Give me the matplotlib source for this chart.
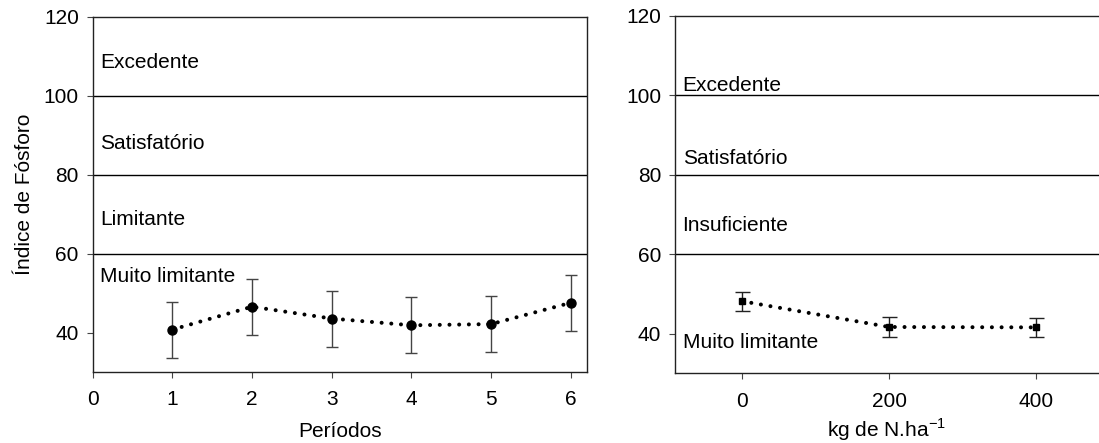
import numpy as np
import matplotlib
matplotlib.use('Agg')
import matplotlib.pyplot as plt

plt.rcParams['font.family'] = ['Liberation Sans', 'DejaVu Sans']
plt.rcParams['font.size'] = 15

# left panel: periods
periodos = [1, 2, 3, 4, 5, 6]
ip_periodos = [40.8, 46.6, 43.6, 41.9, 42.2, 47.6]
err_periodos = [7.1, 7.1, 7.1, 7.1, 7.1, 7.1]
faixas_esq = ['Excedente', 'Satisfatório', 'Limitante', 'Muito limitante']
faixas_esq_y = [108.5, 87.8, 68.7, 54.3]

# right panel: nitrogen doses
doses = [0, 200, 400]
ip_doses = [48.2, 41.7, 41.6]
err_doses = [2.4, 2.5, 2.45]
faixas_dir = ['Excedente', 'Satisfatório', 'Insuficiente', 'Muito limitante']
faixas_dir_y = [102.5, 84.2, 67.2, 37.9]

limites = [100, 80, 60]
yticks = [40, 60, 80, 100, 120]
fs = 15

fig = plt.figure(figsize=(10.99, 4.43), dpi=100)
ax1 = fig.add_axes([0.0843, 0.1596, 0.4496, 0.8027])
ax2 = fig.add_axes([0.6142, 0.1570, 0.3858, 0.8069])

grey = '#444444'

def style(ax):
    for s in ax.spines.values():
        s.set_linewidth(1.0)
        s.set_color('#222222')
    ax.tick_params(axis='x', direction='out', length=4, width=0.8, color=grey,
                   labelsize=fs, pad=9)
    ax.tick_params(axis='y', direction='out', length=4, width=0.8, color=grey,
                   labelsize=fs, pad=6)
    ax.set_ylim(30, 120)
    ax.set_yticks(yticks)
    for y in limites:
        ax.axhline(y, color='black', lw=1.0)

dotted = (0, (0.01, 2.4))

# left
style(ax1)
ax1.errorbar(periodos, ip_periodos, yerr=err_periodos, fmt='o', color='black',
             ms=6.5, ecolor=grey, elinewidth=1.0, capsize=4, capthick=1.0, zorder=3)
ax1.plot(periodos, ip_periodos, linestyle=dotted, dash_capstyle='round',
         color='black', lw=2.9, zorder=2)
ax1.set_xlim(0, 6.2)
ax1.set_xticks(range(0, 7))
ax1.set_xlabel('Períodos', fontsize=fs, labelpad=9)
ax1.set_ylabel('Índice de Fósforo', fontsize=fs, labelpad=7)
for t, y in zip(faixas_esq, faixas_esq_y):
    ax1.text(0.09, y, t, va='center', ha='left', fontsize=fs)

# right
style(ax2)
ax2.spines['right'].set_visible(False)
ax2.errorbar(doses, ip_doses, yerr=err_doses, fmt='s', color='black',
             ms=4.5, ecolor='#222222', elinewidth=1.0, capsize=5.4, capthick=1.0, zorder=3)
ax2.plot(doses, ip_doses, linestyle=dotted, dash_capstyle='round',
         color='black', lw=2.9, zorder=2)
ax2.set_xlim(-90.6, 485)
ax2.set_xticks(doses)
ax2.set_xlabel('kg de N.ha$^{\\mathregular{-1}}$', fontsize=fs, labelpad=4)
for t, y in zip(faixas_dir, faixas_dir_y):
    ax2.text(-80.3, y, t, va='center', ha='left', fontsize=fs)

fig.savefig('out.png', dpi=100)
